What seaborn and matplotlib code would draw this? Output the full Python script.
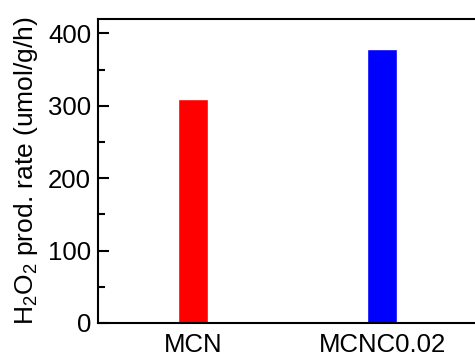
import matplotlib
matplotlib.use("Agg")
import matplotlib.pyplot as plt
from matplotlib.ticker import MultipleLocator
import seaborn as sns
import pandas as pd

# Samples and their H2O2 production rates (umol/g/h)
samples = ["MCN", "MCNC0.02"]
rates = [309, 378]
bar_colors = ["#ff0000", "#0000ff"]

sns.set_style("ticks")
plt.rcParams["font.family"] = ["Liberation Sans", "DejaVu Sans"]
plt.rcParams["mathtext.default"] = "regular"
plt.rcParams["text.color"] = "black"
plt.rcParams["axes.labelcolor"] = "black"
plt.rcParams["xtick.color"] = "black"
plt.rcParams["ytick.color"] = "black"

df = pd.DataFrame({"sample": samples, "rate": rates})

fig = plt.figure(figsize=(4.75, 3.56), dpi=100)
ax = fig.add_axes([98 / 475, 1 - 323 / 356, 379 / 475, 304 / 356])

sns.barplot(data=df, x="sample", y="rate", hue="sample",
            palette=dict(zip(samples, bar_colors)), width=0.158,
            legend=False, ax=ax, saturation=1)

ax.set_xlim(-0.5, 1.5)
ax.set_ylim(0, 420)
ax.yaxis.set_major_locator(MultipleLocator(100))
ax.yaxis.set_minor_locator(MultipleLocator(50))

for s in ax.spines.values():
    s.set_linewidth(1.5)
    s.set_color("black")

ax.tick_params(axis="y", which="major", direction="in", length=8, width=1.5,
               pad=5, labelsize=18.5, labelcolor="black")
ax.tick_params(axis="y", which="minor", direction="in", length=5, width=1.5)
ax.tick_params(axis="x", length=0, pad=7, labelsize=18.5, labelcolor="black")

ax.set_xlabel("")
ax.set_ylabel("H$_2$O$_2$ prod. rate (umol/g/h)", fontsize=19,
              color="black", labelpad=6)

fig.savefig("out.png", dpi=100)
